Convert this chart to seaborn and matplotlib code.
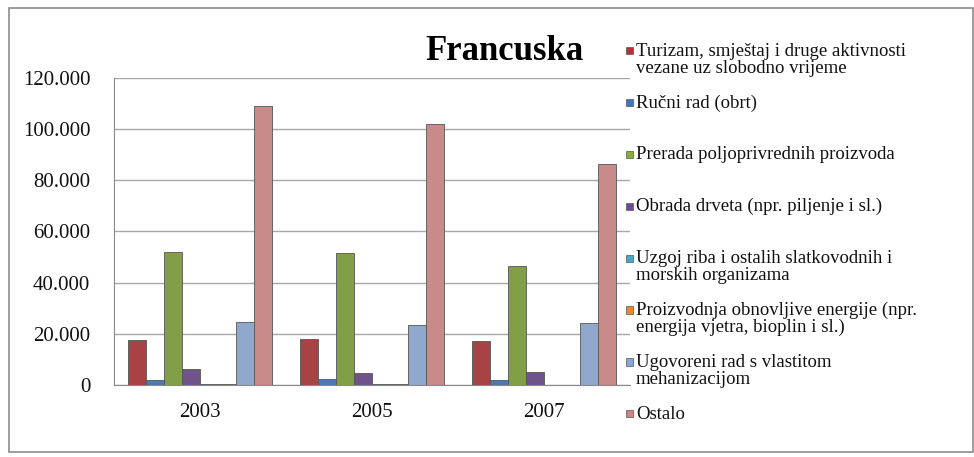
import pandas as pd
import numpy as np
import seaborn as sns
import matplotlib.pyplot as plt
from matplotlib.patches import Rectangle
from matplotlib.ticker import FuncFormatter

# data
years = ['2003', '2005', '2007']
activities = [
    'Turizam, smještaj i druge aktivnosti\nvezane uz slobodno vrijeme',
    'Ručni rad (obrt)',
    'Prerada poljoprivrednih proizvoda',
    'Obrada drveta (npr. piljenje i sl.)',
    'Uzgoj riba i ostalih slatkovodnih i\nmorskih organizama',
    'Proizvodnja obnovljive energije (npr.\nenergija vjetra, bioplin i sl.)',
    'Ugovoreni rad s vlastitom\nmehanizacijom',
    'Ostalo',
]
turizam = [17600, 18000, 17000]
rucni_rad = [1900, 2300, 1800]
prerada = [52000, 51500, 46500]
obrada_drveta = [6000, 4800, 5000]
uzgoj_riba = [500, 500, 0]
obnovljiva_energija = [500, 500, 0]
ugovoreni_rad = [24500, 23500, 24000]
ostalo = [109000, 102000, 86500]

colors = ['#B83232', '#3B78C0', '#86AE38', '#6E4A96',
          '#46A8C2', '#E8892E', '#86A6D6', '#D38080']

series = [turizam, rucni_rad, prerada, obrada_drveta,
          uzgoj_riba, obnovljiva_energija, ugovoreni_rad, ostalo]
rows = []
for name, vals in zip(activities, series):
    for yr, v in zip(years, vals):
        rows.append({'Godina': yr, 'Aktivnost': name, 'Vrijednost': v})
df = pd.DataFrame(rows)

sns.set_theme(style='white')
plt.rcParams['font.family'] = ['Liberation Serif', 'DejaVu Serif']

fig = plt.figure(figsize=(9.74, 4.57), dpi=100)
ax = fig.add_axes([0.117, 0.158, 0.530, 0.671])

sns.barplot(data=df, x='Godina', y='Vrijednost', hue='Aktivnost',
            hue_order=activities, palette=colors, width=0.84,
            edgecolor='#555555', linewidth=0.6, legend=False, ax=ax)

ax.set_ylim(0, 120000)
ax.set_yticks(np.arange(0, 120001, 20000))
ax.yaxis.set_major_formatter(FuncFormatter(lambda v, p: f'{int(v):,}'.replace(',', '.')))
ax.set_xlim(-0.5, 2.5)
ax.set_xticks([-0.5, 0.5, 1.5, 2.5], minor=False)
ax.set_xticklabels([])
ax.set_xticks([0, 1, 2], minor=True)
ax.set_xticklabels(years, minor=True)
ax.tick_params(axis='x', which='major', length=9, color='#888888', width=0.8, direction='out')
ax.tick_params(axis='x', which='minor', length=0, labelsize=15, pad=13)
ax.tick_params(axis='y', length=6, color='#888888', width=0.8, labelsize=15, pad=11)
ax.yaxis.grid(True, color='#A8A8A8', linewidth=1)
ax.set_axisbelow(True)
ax.set_xlabel('')
ax.set_ylabel('')
for s in ['top', 'right']:
    ax.spines[s].set_visible(False)
for s in ['left', 'bottom']:
    ax.spines[s].set_color('#888888')
    ax.spines[s].set_linewidth(0.8)
for t in ax.get_yticklabels() + ax.get_xticklabels(minor=True):
    t.set_color('#111111')

fig.text(0.518, 0.888, 'Francuska', ha='center', va='center',
         fontsize=25, fontweight='bold', color='black')

# legend, entries spaced evenly like the original
leg_top = 0.893
leg_step = 0.1135
for i, (name, c) in enumerate(zip(activities, colors)):
    y = leg_top - i * leg_step
    fig.add_artist(Rectangle((0.6425, y - 0.012), 0.0075, 0.016,
                             transform=fig.transFigure, facecolor=c,
                             edgecolor='#555555', linewidth=0.5))
    fig.text(0.653, y + 0.014, name, ha='left', va='top',
             fontsize=13.5, color='#111111', linespacing=1.0)

fig.add_artist(Rectangle((0.009, 0.012), 0.99, 0.97, transform=fig.transFigure,
                         fill=False, edgecolor='#8C8C8C', linewidth=1.2))

fig.savefig('out.png', dpi=100)
